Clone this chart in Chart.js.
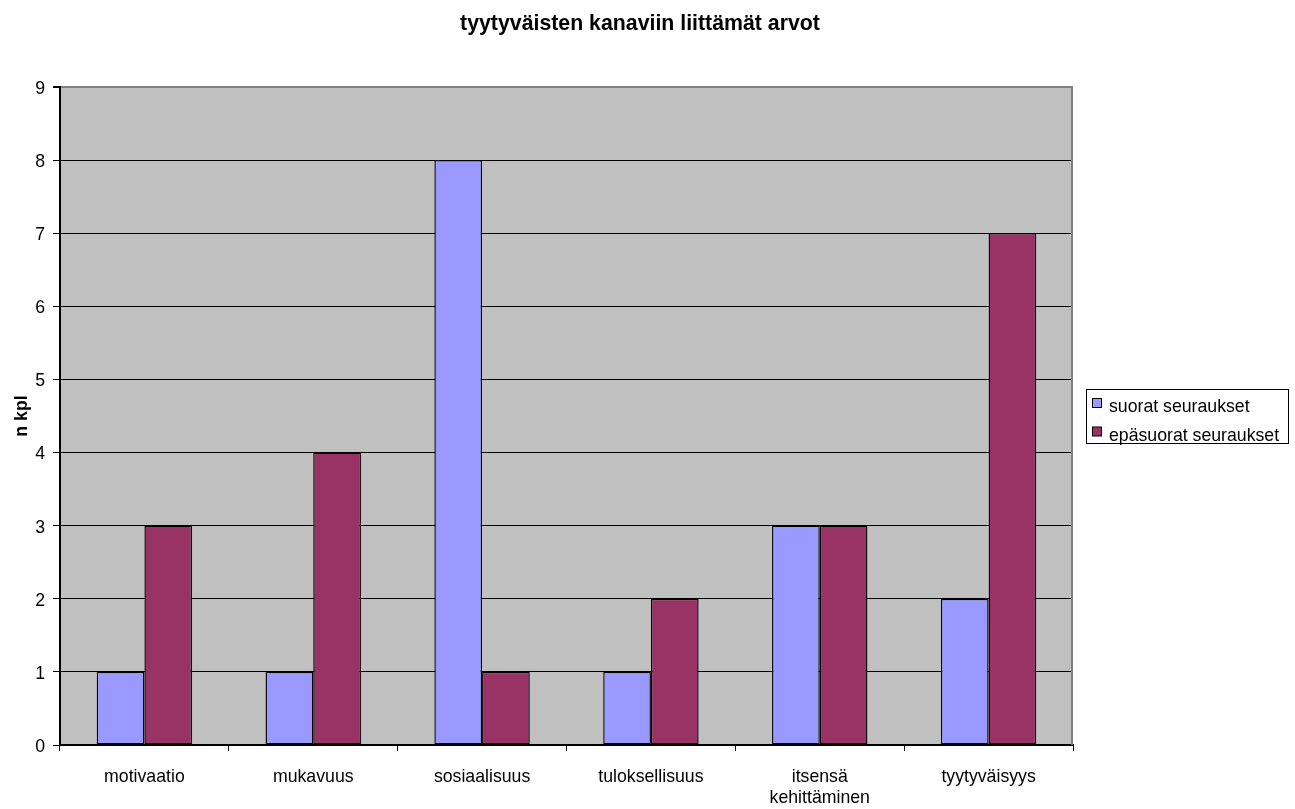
<!DOCTYPE html>
<html>
<head>
<meta charset="utf-8">
<title>tyytyväisten kanaviin liittämät arvot</title>
<script src="https://cdn.jsdelivr.net/npm/chart.js@4/dist/chart.umd.min.js"></script>
<style>
  html, body { margin: 0; padding: 0; background: #fff; }
  #wrap { width: 1295px; height: 809px; }
</style>
</head>
<body>
<div id="wrap"><canvas id="c" width="1295" height="809"></canvas></div>
<script>
const chartTitle = 'tyytyväisten kanaviin liittämät arvot';
const yAxisTitle = 'n kpl';
const categories = ['motivaatio', 'mukavuus', 'sosiaalisuus', 'tuloksellisuus', ['itsensä', 'kehittäminen'], 'tyytyväisyys'];
const seriesNames = ['suorat seuraukset', 'epäsuorat seuraukset'];
const suorat = [1, 1, 8, 1, 3, 2];
const epasuorat = [3, 4, 1, 2, 3, 7];
const yTicks = [0, 1, 2, 3, 4, 5, 6, 7, 8, 9];

const FONT = "'Liberation Sans', Arial, Helvetica, sans-serif";
const colors = ['#9999FF', '#993366'];

// Grey plot background, grey right frame, centred title and boxed legend
const decor = {
  id: 'decor',
  beforeDraw(chart) {
    const { ctx, chartArea: a } = chart;
    ctx.save();
    ctx.fillStyle = '#C0C0C0';
    ctx.fillRect(a.left, a.top, a.right - a.left, a.bottom - a.top);
    ctx.restore();
  },
  afterDatasetsDraw(chart) {
    const { ctx, chartArea: a } = chart;
    ctx.save();
    ctx.strokeStyle = '#808080';
    ctx.lineWidth = 2;
    ctx.beginPath();
    ctx.moveTo(a.right - 1, a.top - 1);
    ctx.lineTo(a.right - 1, a.bottom);
    ctx.stroke();
    ctx.restore();
  },
  afterDraw(chart) {
    const { ctx } = chart;
    ctx.save();
    // title
    ctx.fillStyle = '#000';
    ctx.font = 'bold 21.3px ' + FONT;
    ctx.textAlign = 'center';
    ctx.textBaseline = 'alphabetic';
    ctx.fillText(chartTitle, 640, 30);
    // legend box
    ctx.strokeStyle = '#000';
    ctx.lineWidth = 1;
    ctx.strokeRect(1086.5, 389.5, 202, 54);
    ctx.font = '17.7px ' + FONT;
    ctx.textAlign = 'left';
    chart.data.datasets.forEach((ds, i) => {
      const y = 398 + i * 28.5;
      ctx.fillStyle = ds.backgroundColor;
      ctx.fillRect(1092.5, y + 0.5, 9, 9);
      ctx.strokeStyle = '#000';
      ctx.strokeRect(1092.5, y + 0.5, 9, 9);
      ctx.fillStyle = '#000';
      ctx.fillText(ds.label, 1109, y + 14);
    });
    ctx.restore();
  }
};

new Chart(document.getElementById('c'), {
  type: 'bar',
  data: {
    labels: categories,
    datasets: [
      { label: seriesNames[0], data: suorat, backgroundColor: colors[0], borderColor: '#000', borderWidth: 1.4, borderSkipped: false },
      { label: seriesNames[1], data: epasuorat, backgroundColor: colors[1], borderColor: '#000', borderWidth: 1.4, borderSkipped: false }
    ]
  },
  options: {
    responsive: false,
    animation: false,
    devicePixelRatio: 1,
    layout: { padding: { top: 87, right: 222, bottom: 0, left: 0 } },
    datasets: { bar: { categoryPercentage: 0.565, barPercentage: 1.0 } },
    plugins: {
      legend: { display: false },
      title: { display: false },
      tooltip: { enabled: false }
    },
    scales: {
      x: {
        afterFit(scale) { scale.height = 64; },
        grid: { display: true, drawOnChartArea: false, drawTicks: true, tickLength: 6, color: '#000', offset: true },
        border: { display: true, color: '#000', width: 2 },
        ticks: { color: '#000', font: { family: FONT, size: 17.7, lineHeight: 1.2 }, padding: 15, maxRotation: 0, autoSkip: false }
      },
      y: {
        min: 0,
        max: 9,
        afterFit(scale) { scale.width = 60; },
        afterBuildTicks(scale) { scale.ticks = yTicks.map(v => ({ value: v })); },
        grid: {
          color: (c) => (c.tick && c.tick.value === 9 ? '#808080' : '#000'),
          lineWidth: (c) => (c.tick && c.tick.value === 9 ? 2 : 1),
          tickColor: '#000',
          tickLength: 7,
          drawTicks: true
        },
        border: { display: true, color: '#000', width: 2 },
        ticks: { color: '#000', font: { family: FONT, size: 17.7 }, padding: 8, labelOffset: 2 },
        title: { display: true, text: yAxisTitle, color: '#000', font: { family: FONT, size: 17.7, weight: 'bold' }, padding: { top: 11, bottom: 0 } }
      }
    }
  },
  plugins: [decor]
});
</script>
</body>
</html>
